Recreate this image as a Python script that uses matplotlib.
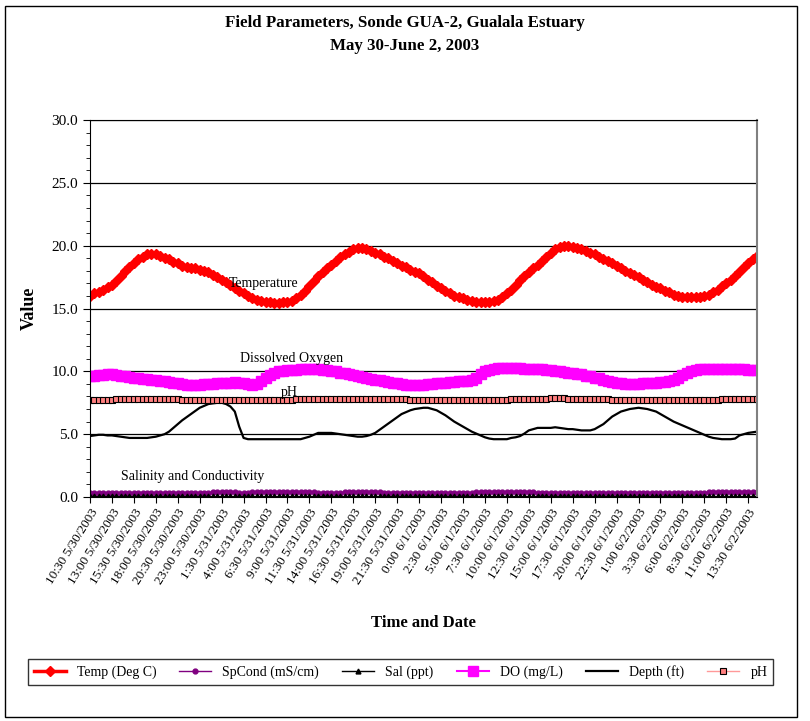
import matplotlib
matplotlib.use("Agg")
import matplotlib.pyplot as plt
import matplotlib.patches as patches
from matplotlib.ticker import MultipleLocator, FormatStrFormatter

plt.rcParams['font.family'] = ['Liberation Serif', 'DejaVu Serif']

# tick labels, one every 2.5 h (data every 30 min starting 10:30 5/30/2003)
tick_labels = ["10:30 5/30/2003", "13:00 5/30/2003", "15:30 5/30/2003", "18:00 5/30/2003",
               "20:30 5/30/2003", "23:00 5/30/2003", "1:30 5/31/2003", "4:00 5/31/2003",
               "6:30 5/31/2003", "9:00 5/31/2003", "11:30 5/31/2003", "14:00 5/31/2003",
               "16:30 5/31/2003", "19:00 5/31/2003", "21:30 5/31/2003", "0:00 6/1/2003",
               "2:30 6/1/2003", "5:00 6/1/2003", "7:30 6/1/2003", "10:00 6/1/2003",
               "12:30 6/1/2003", "15:00 6/1/2003", "17:30 6/1/2003", "20:00 6/1/2003",
               "22:30 6/1/2003", "1:00 6/2/2003", "3:30 6/2/2003", "6:00 6/2/2003",
               "8:30 6/2/2003", "11:00 6/2/2003", "13:30 6/2/2003"]

temp = [16.0, 16.2, 16.3, 16.5, 16.7, 16.9, 17.2, 17.6, 18.0, 18.3, 18.6, 18.9, 19.1, 19.3,
        19.35, 19.3, 19.2, 19.0, 18.9, 18.7, 18.6, 18.4, 18.3, 18.2, 18.2, 18.1, 18.0, 17.9,
        17.7, 17.5, 17.3, 17.1, 16.9, 16.6, 16.4, 16.2, 16.0, 15.8, 15.7, 15.6, 15.5,
        15.5, 15.4, 15.4, 15.5, 15.5, 15.6, 15.8, 16.1, 16.4, 16.8, 17.2, 17.6, 17.9, 18.2,
        18.5, 18.8, 19.1, 19.3, 19.5, 19.7, 19.8,
        19.8, 19.7, 19.6, 19.4, 19.3, 19.1, 19.0, 18.8, 18.6, 18.4, 18.3, 18.1, 17.9, 17.8,
        17.6, 17.3, 17.1, 16.8, 16.6,
        16.4, 16.2, 16.0, 15.9, 15.8, 15.7, 15.6, 15.5, 15.5, 15.5, 15.5, 15.6, 15.7,
        15.9, 16.2, 16.5, 16.9, 17.3, 17.6, 17.9, 18.2, 18.5, 18.8, 19.1, 19.4, 19.7, 19.9, 20.0,
        20.0, 19.9, 19.8, 19.7, 19.6, 19.4, 19.3, 19.1, 18.9, 18.8, 18.6, 18.4, 18.2, 18.0,
        17.8, 17.7, 17.5, 17.3, 17.1, 16.9, 16.7, 16.6, 16.4, 16.3, 16.1, 16.0, 15.9, 15.9,
        15.9, 15.9, 15.9, 16.0, 16.1, 16.3, 16.5, 16.8, 17.0, 17.3, 17.6, 17.9, 18.3, 18.6,
        18.9, 19.2]

do = [9.6, 9.65, 9.7, 9.7, 9.75, 9.75, 9.7, 9.65, 9.6, 9.55, 9.5, 9.45, 9.4, 9.4, 9.35,
      9.3, 9.25, 9.2, 9.15, 9.1, 9.1, 9.0, 8.95, 8.95, 8.95, 8.95, 9.0, 9.0, 9.0, 9.05,
      9.1, 9.1, 9.1, 9.15, 9.1, 9.1, 9.0, 8.9, 9.0, 9.2, 9.5, 9.7, 9.9, 10.0, 10.05,
      10.1, 10.1, 10.1, 10.15, 10.15, 10.15, 10.15, 10.15, 10.1, 10.1, 10.05, 10.0, 9.9, 9.85,
      9.75, 9.7, 9.6, 9.55, 9.5, 9.4, 9.35, 9.3, 9.2, 9.15, 9.1, 9.05, 9.0, 8.95, 8.95,
      8.95, 8.95, 8.95, 9.0, 9.0, 9.05, 9.1, 9.1, 9.15, 9.15, 9.2, 9.2, 9.25, 9.35, 9.5,
      9.75, 10.0, 10.1, 10.2, 10.25, 10.3, 10.3, 10.3, 10.25, 10.25, 10.2, 10.2, 10.2, 10.15,
      10.15, 10.1, 10.1, 10.05, 10.0, 9.95, 9.9, 9.85, 9.8, 9.75, 9.65, 9.6, 9.5, 9.45,
      9.35, 9.25, 9.15, 9.1, 9.05, 9.0, 9.0, 9.0, 9.0, 9.05, 9.05, 9.1, 9.1, 9.15, 9.15,
      9.2, 9.3, 9.45, 9.7, 9.9, 10.0, 10.1, 10.15, 10.2, 10.2, 10.2, 10.2, 10.2, 10.2,
      10.2, 10.2, 10.15, 10.15, 10.1, 10.1, 10.1]

depth = [4.85, 4.9, 4.95, 4.95, 4.9, 4.9, 4.85, 4.8, 4.75, 4.7, 4.7, 4.7, 4.7, 4.7, 4.75,
         4.8, 4.9, 5.0, 5.2, 5.5, 5.8, 6.1, 6.35, 6.6, 6.85, 7.1, 7.25, 7.4, 7.45, 7.5,
         7.5, 7.4, 7.2, 6.8, 5.6, 4.7, 4.6, 4.6, 4.6, 4.6, 4.6, 4.6, 4.6, 4.6, 4.6,
         4.6, 4.6, 4.6, 4.6, 4.7, 4.8, 4.95, 5.1, 5.1, 5.1, 5.1, 5.05, 5.0, 4.95, 4.9,
         4.85, 4.8, 4.8, 4.85, 4.95, 5.1, 5.35, 5.6, 5.85, 6.1, 6.35, 6.6, 6.75, 6.9, 7.0,
         7.05, 7.1, 7.1, 7.0, 6.9, 6.7, 6.5, 6.25, 6.0, 5.8, 5.6, 5.4, 5.2, 5.05, 4.9,
         4.75, 4.65, 4.6, 4.6, 4.6, 4.6, 4.7, 4.75, 4.85, 5.05, 5.3, 5.4, 5.5, 5.5, 5.5,
         5.5, 5.55, 5.5, 5.45, 5.4, 5.4, 5.35, 5.3, 5.3, 5.3, 5.4, 5.6, 5.8, 6.1, 6.4,
         6.6, 6.8, 6.9, 7.0, 7.05, 7.1, 7.05, 7.0, 6.9, 6.8, 6.6, 6.4, 6.2, 6.0, 5.85,
         5.7, 5.55, 5.4, 5.25, 5.1, 4.95, 4.8, 4.7, 4.65, 4.6, 4.6, 4.6, 4.65, 4.9, 5.0,
         5.1, 5.15, 5.2]

ph = [7.7, 7.7, 7.7, 7.7, 7.7, 7.7, 7.8, 7.8, 7.8, 7.8, 7.8, 7.8, 7.8, 7.8, 7.8,
      7.8, 7.8, 7.8, 7.8, 7.8, 7.8, 7.7, 7.7, 7.7, 7.7, 7.7, 7.7, 7.7, 7.7, 7.7,
      7.7, 7.7, 7.7, 7.7, 7.7, 7.7, 7.7, 7.7, 7.7, 7.7, 7.7, 7.7, 7.7, 7.7, 7.7,
      7.7, 7.7, 7.8, 7.8, 7.8, 7.8, 7.8, 7.8, 7.8, 7.8, 7.8, 7.8, 7.8, 7.8, 7.8,
      7.8, 7.8, 7.8, 7.8, 7.8, 7.8, 7.8, 7.8, 7.8, 7.8, 7.8, 7.8, 7.8, 7.7, 7.7,
      7.7, 7.7, 7.7, 7.7, 7.7, 7.7, 7.7, 7.7, 7.7, 7.7, 7.7, 7.7, 7.7, 7.7, 7.7,
      7.7, 7.7, 7.7, 7.7, 7.7, 7.7, 7.8, 7.8, 7.8, 7.8, 7.8, 7.8, 7.8, 7.8, 7.8,
      7.9, 7.9, 7.9, 7.9, 7.8, 7.8, 7.8, 7.8, 7.8, 7.8, 7.8, 7.8, 7.8, 7.8, 7.7,
      7.7, 7.7, 7.7, 7.7, 7.7, 7.7, 7.7, 7.7, 7.7, 7.7, 7.7, 7.7, 7.7, 7.7, 7.7,
      7.7, 7.7, 7.7, 7.7, 7.7, 7.7, 7.7, 7.7, 7.7, 7.8, 7.8, 7.8, 7.8, 7.8, 7.8,
      7.8, 7.8, 7.8]

spcond = [0.3] * 28 + [0.4] * 6 + [0.3] * 3 + [0.4] * 15 + [0.3] * 6 + [0.4] * 9 + \
         [0.3] * 21 + [0.4] * 14 + [0.3] * 39 + [0.4] * 12
sal = [0.1] * 153

x = list(range(len(temp)))

fig = plt.figure(figsize=(8.1, 7.21), dpi=100)
ax = fig.add_axes([90 / 810, 1 - 497 / 721, (757 - 90) / 810, (497 - 120) / 721])

ax.plot(x, temp, color="#FF0000", marker="D", ms=5, mec="#FF0000", lw=2.5, label="Temp (Deg C)")
ax.plot(x, spcond, color="#800080", marker="o", ms=3.5, lw=1, label="SpCond (mS/cm)")
ax.plot(x, sal, color="black", marker="^", ms=3.5, lw=1, label="Sal (ppt)")
ax.plot(x, do, color="#FF00FF", marker="s", ms=7, lw=1.5, label="DO (mg/L)")
ax.plot(x, depth, color="black", lw=1.6, label="Depth (ft)")
ax.plot(x, ph, color="#FF9999", marker="s", ms=5, mfc="#FF8080", mec="black", mew=0.8,
        lw=1, label="pH")

ax.set_xlim(0, len(x) - 1)
ax.set_ylim(0, 30)
ax.yaxis.set_major_locator(MultipleLocator(5))
ax.yaxis.set_minor_locator(MultipleLocator(1))
ax.yaxis.set_major_formatter(FormatStrFormatter("%.1f"))
ax.grid(axis="y", which="major", color="black", lw=0.9)
ax.set_axisbelow(True)

ax.set_xticks(x[::5])
ax.set_xticklabels(tick_labels, rotation=58, ha="right", rotation_mode="anchor", fontsize=9.5)
ax.tick_params(axis="x", direction="out", length=4, pad=3)
ax.tick_params(axis="y", which="major", direction="out", length=5, labelsize=11)
ax.tick_params(axis="y", which="minor", direction="out", length=3)

for s in ["left", "bottom", "top"]:
    ax.spines[s].set_color("black")
ax.spines["right"].set_color("#808080")
ax.spines["right"].set_linewidth(1.5)

ax.set_ylabel("Value", fontsize=13, fontweight="bold", labelpad=10)
ax.set_xlabel("Time and Date", fontsize=12, fontweight="bold", labelpad=20)

ax.text(31.7, 17.0, "Temperature", fontsize=10, va="center")
ax.text(34.2, 11.0, "Dissolved Oxygen", fontsize=10, va="center")
ax.text(43.5, 8.35, "pH", fontsize=10, va="center")
ax.text(7.1, 1.6, "Salinity and Conductivity", fontsize=10, va="center")

fig.text(0.5, 1 - 23 / 721, "Field Parameters, Sonde GUA-2, Gualala Estuary",
         ha="center", va="center", fontsize=12.2, fontweight="bold")
fig.text(0.5, 1 - 46 / 721, "May 30-June 2, 2003",
         ha="center", va="center", fontsize=12.2, fontweight="bold")

leg = fig.legend(loc="center", ncol=6, bbox_to_anchor=(28 / 810, 1 - 690 / 721, 745 / 810, 36 / 721),
                 mode="expand", fontsize=10, handlelength=2.3, frameon=True, fancybox=False,
                 borderaxespad=0, columnspacing=1.0)
leg.get_frame().set_edgecolor("black")
leg.get_frame().set_linewidth(1)

fig.patches.append(patches.Rectangle((5 / 810, 1 - 717 / 721), 792 / 810, 711 / 721,
                                     transform=fig.transFigure, fill=False, ec="black", lw=1))

fig.savefig("out.png", dpi=100)
